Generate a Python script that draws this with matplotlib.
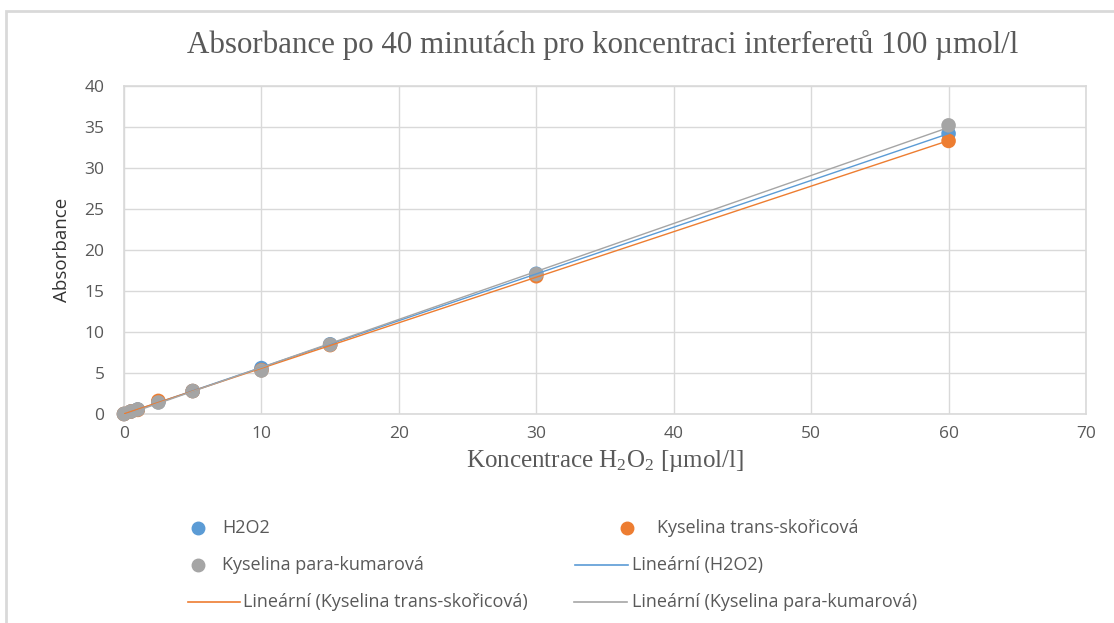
import numpy as np
import matplotlib
matplotlib.use("Agg")
import matplotlib.pyplot as plt
from matplotlib.lines import Line2D
from matplotlib.patches import Rectangle

plt.rcParams["mathtext.fontset"] = "custom"
plt.rcParams["mathtext.rm"] = "Liberation Serif"
plt.rcParams["mathtext.it"] = "Liberation Serif:italic"

# ---- data ----
conc = [0, 0.5, 1, 2.5, 5, 10, 15, 30, 60]
h2o2 = [0.0, 0.3, 0.55, 1.45, 2.8, 5.6, 8.5, 17.1, 34.2]
skoricova = [0.0, 0.3, 0.5, 1.6, 2.8, 5.35, 8.4, 16.8, 33.3]
kumarova = [0.0, 0.3, 0.55, 1.4, 2.8, 5.3, 8.45, 17.05, 35.2]
series_names = ["H2O2", "Kyselina trans-skořicová", "Kyselina para-kumarová"]
colors = ["#5B9BD5", "#ED7D31", "#A5A5A5"]
x_ticks = [0, 10, 20, 30, 40, 50, 60, 70]
y_ticks = [0, 5, 10, 15, 20, 25, 30, 35, 40]

W, H = 1114, 623
fig = plt.figure(figsize=(W / 100, H / 100), dpi=100)
fig.patch.set_facecolor("white")

def fx(px):
    return px / W

def fy(py):
    return 1 - py / H

# outer chart frame
fig.patches.append(Rectangle((fx(6), fy(640)), fx(1200), fy(11) - fy(640),
                             transform=fig.transFigure, fill=False,
                             edgecolor="#D9D9D9", linewidth=2))

ax = fig.add_axes([fx(124), fy(414), fx(1086) - fx(124), fy(86) - fy(414)])
ax.set_xlim(0, 70)
ax.set_ylim(0, 40)
ax.set_xticks(x_ticks)
ax.set_yticks(y_ticks)
ax.grid(True, color="#D9D9D9", linewidth=1)
ax.set_axisbelow(True)
for s in ax.spines.values():
    s.set_color("#D9D9D9")
    s.set_linewidth(1.2)
ax.tick_params(length=0, colors="#595959", labelsize=12.5)
ax.tick_params(axis="y", pad=14)
ax.tick_params(axis="x", pad=9)
for lab in ax.get_xticklabels() + ax.get_yticklabels():
    lab.set_fontfamily("Open Sans")

all_series = [h2o2, skoricova, kumarova]
xs = np.array(conc, dtype=float)
for ys, c in zip(all_series, colors):
    ax.scatter(xs, ys, s=110, color=c, zorder=3, edgecolors="none", clip_on=False)
for ys, c in zip(all_series, colors):
    k, q = np.polyfit(xs, np.array(ys, dtype=float), 1)
    xl = np.array([xs.min(), xs.max()])
    ax.plot(xl, k * xl + q, color=c, linewidth=1.0, zorder=4)

ax.set_ylabel("Absorbance", fontsize=13.5, family="Open Sans", color="#333333", labelpad=10)
ax.set_xlabel("Koncentrace H$_2$O$_2$ [µmol/l]", fontsize=18,
              family="Liberation Serif", color="#595959", labelpad=4)
fig.text(fx(603), fy(45), "Absorbance po 40 minutách pro koncentraci interferetů 100 µmol/l",
         ha="center", va="center", fontsize=22.3, family="Liberation Serif", color="#595959")

# legend (manually placed, Excel-like flow layout)
leg_font = dict(fontsize=13, family="Open Sans", color="#595959", va="center")
def marker_item(xm, xt, y, color, text):
    fig.add_artist(Line2D([fx(xm)], [fy(y)], marker="o", markersize=9,
                          color=color, linestyle="none", transform=fig.transFigure))
    fig.text(fx(xt), fy(y), text, **leg_font)

def line_item(x0, x1, xt, y, color, text):
    fig.add_artist(Line2D([fx(x0), fx(x1)], [fy(y), fy(y)], color=color,
                          linewidth=1.2, transform=fig.transFigure))
    fig.text(fx(xt), fy(y), text, **leg_font)

marker_item(198, 222, 528, colors[0], series_names[0])
marker_item(627, 657, 528, colors[1], series_names[1])
marker_item(198, 222, 565, colors[2], series_names[2])
line_item(575, 628, 632, 565, colors[0], "Lineární (" + series_names[0] + ")")
line_item(188, 240, 243, 602, colors[1], "Lineární (" + series_names[1] + ")")
line_item(574, 627, 632, 602, colors[2], "Lineární (" + series_names[2] + ")")

fig.savefig("out.png", dpi=100, facecolor="white")
